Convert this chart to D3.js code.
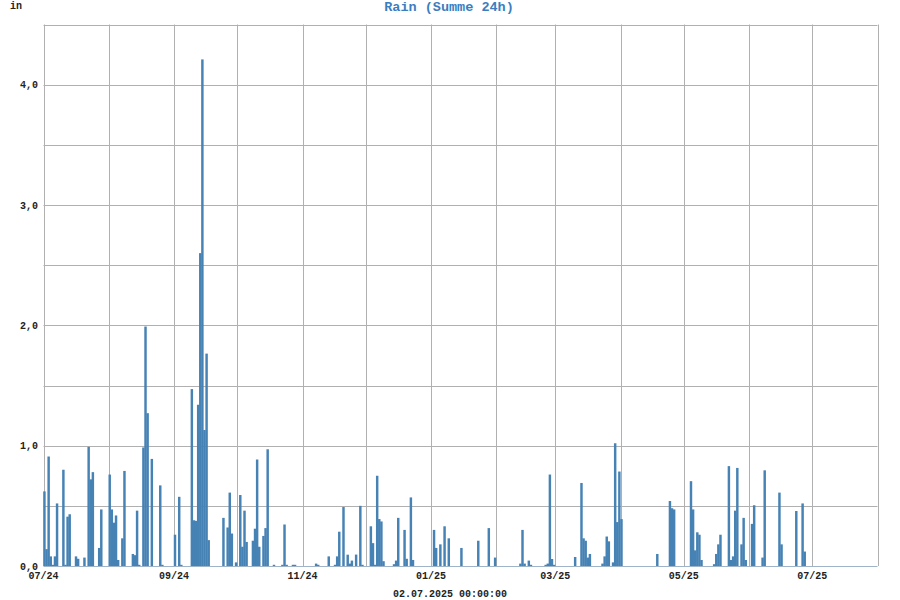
<!DOCTYPE html>
<html>
<head>
<meta charset="utf-8">
<script src="https://cdn.jsdelivr.net/npm/d3@7/dist/d3.min.js"></script>
<style>
  html, body { margin: 0; padding: 0; background: #fff; }
  svg { display: block; }
  text { font-family: "Liberation Mono", "DejaVu Sans Mono", monospace; font-weight: bold; }
</style>
</head>
<body>
<svg id="chart" width="900" height="600"></svg>
<script>
// ---- data (daily rain sums, inches) ----
const rainDays = [
  "2024-07-01","2024-07-02","2024-07-03","2024-07-04","2024-07-05","2024-07-06","2024-07-07",
  "2024-07-10","2024-07-11","2024-07-12","2024-07-13","2024-07-16","2024-07-17","2024-07-20",
  "2024-07-22","2024-07-23","2024-07-24","2024-07-27","2024-07-28",
  "2024-08-01","2024-08-02","2024-08-03","2024-08-04","2024-08-05","2024-08-07","2024-08-08",
  "2024-08-12","2024-08-13","2024-08-14","2024-08-15","2024-08-17","2024-08-18","2024-08-19",
  "2024-08-21","2024-08-25","2024-08-26",
  "2024-09-01","2024-09-03","2024-09-04","2024-09-09","2024-09-10","2024-09-11","2024-09-12",
  "2024-09-13","2024-09-14","2024-09-15","2024-09-16","2024-09-17","2024-09-24","2024-09-26",
  "2024-09-27","2024-09-28","2024-09-30",
  "2024-10-02","2024-10-03","2024-10-04","2024-10-05","2024-10-08","2024-10-09","2024-10-10",
  "2024-10-11","2024-10-13","2024-10-14","2024-10-15","2024-10-18","2024-10-22","2024-10-23",
  "2024-10-24","2024-10-27","2024-10-28",
  "2024-11-07","2024-11-08","2024-11-13","2024-11-16","2024-11-17","2024-11-18","2024-11-20",
  "2024-11-22","2024-11-23","2024-11-24","2024-11-26","2024-11-28","2024-11-29",
  "2024-12-03","2024-12-04","2024-12-05","2024-12-06","2024-12-07","2024-12-08","2024-12-09",
  "2024-12-14","2024-12-15","2024-12-16","2024-12-19","2024-12-20","2024-12-22","2024-12-23",
  "2025-01-02","2025-01-03","2025-01-05","2025-01-07","2025-01-09","2025-01-15","2025-01-23",
  "2025-01-28","2025-01-31",
  "2025-02-12","2025-02-13","2025-02-14","2025-02-16","2025-02-17","2025-02-24","2025-02-25",
  "2025-02-26","2025-02-27","2025-02-28",
  "2025-03-10","2025-03-13","2025-03-14","2025-03-15","2025-03-16","2025-03-17","2025-03-23",
  "2025-03-24","2025-03-25","2025-03-26","2025-03-28","2025-03-29","2025-03-30","2025-03-31",
  "2025-04-01","2025-04-18","2025-04-24","2025-04-25","2025-04-26",
  "2025-05-04","2025-05-05","2025-05-06","2025-05-07","2025-05-08","2025-05-09","2025-05-15",
  "2025-05-16","2025-05-17","2025-05-18","2025-05-22","2025-05-23","2025-05-24","2025-05-25",
  "2025-05-26","2025-05-28","2025-05-29","2025-05-30",
  "2025-06-02","2025-06-03","2025-06-07","2025-06-08","2025-06-15","2025-06-16","2025-06-23",
  "2025-06-26","2025-06-27"
];
const rainInches = [
  0.62,0.14,0.91,0.08,0.01,0.08,0.52,
  0.80,0.01,0.41,0.43,0.08,0.06,0.07,
  0.99,0.72,0.78,0.15,0.47,
  0.76,0.47,0.36,0.42,0.05,0.23,0.79,
  0.10,0.09,0.46,0.01,0.985,1.99,1.27,
  0.89,0.67,0.01,
  0.26,0.575,0.01,1.47,0.38,0.375,1.34,
  2.60,4.21,1.13,1.765,0.215,0.40,0.32,
  0.61,0.27,0.03,
  0.59,0.16,0.46,0.20,0.21,0.31,0.885,
  0.16,0.25,0.315,0.97,0.01,0.01,0.345,
  0.01,0.01,0.01,
  0.02,0.01,0.08,0.01,0.08,0.285,0.49,
  0.094,0.02,0.045,0.095,0.50,0.01,
  0.33,0.19,0.01,0.75,0.39,0.37,0.04,
  0.015,0.045,0.40,0.30,0.06,0.57,0.05,
  0.30,0.15,0.18,0.33,0.23,0.15,0.21,
  0.315,0.07,
  0.02,0.30,0.02,0.045,0.01,0.01,0.02,
  0.76,0.058,0.01,
  0.075,0.69,0.23,0.21,0.07,0.10,0.02,
  0.08,0.245,0.205,0.03,1.02,0.365,0.785,
  0.39,0.10,0.54,0.48,0.47,
  0.705,0.47,0.13,0.28,0.26,0.05,0.015,
  0.10,0.18,0.26,0.83,0.05,0.08,0.46,
  0.815,0.18,0.40,0.05,
  0.35,0.505,0.07,0.795,0.61,0.18,0.457,
  0.52,0.12
];
const xDomain = ["2024-07-01", "2025-08-01"];
const yDomain = [0, 4.5];
const yLabelTicks = [0, 1, 2, 3, 4];
const titleText = "Rain (Summe 24h)";
const unitText = "in";
const footerText = "02.07.2025 00:00:00";

// ---- chart ----
const parse = d3.utcParse("%Y-%m-%d");
const data = rainDays.map((d, i) => ({ date: parse(d), value: rainInches[i] }));

const m = { left: 43.5, right: 877.5, top: 24.5, bottom: 566 };
const svg = d3.select("#chart");

const x = d3.scaleUtc().domain(xDomain.map(parse)).range([m.left, m.right]);
const y = d3.scaleLinear().domain(yDomain).range([m.bottom, m.top]);

const gridColor = "#b0b0b0";
const barColor = "#4682b4";

// grid horizontal (every 0.5)
const yGrid = d3.range(0.5, yDomain[1] + 0.001, 0.5);
svg.append("g").selectAll("line").data(yGrid).join("line")
  .attr("x1", m.left).attr("x2", m.right)
  .attr("y1", d => Math.round(y(d)) + 0.5).attr("y2", d => Math.round(y(d)) + 0.5)
  .attr("stroke", gridColor).attr("stroke-width", 1);

// grid vertical (every month)
const months = d3.utcMonth.range(x.domain()[0], d3.utcDay.offset(x.domain()[1], 1));
svg.append("g").selectAll("line").data(months).join("line")
  .attr("x1", d => Math.round(x(d)) + 0.5).attr("x2", d => Math.round(x(d)) + 0.5)
  .attr("y1", m.top).attr("y2", m.bottom)
  .attr("stroke", gridColor).attr("stroke-width", 1);

// bars
const dayW = x(d3.utcDay.offset(x.domain()[0], 1)) - x(x.domain()[0]);
svg.append("g").selectAll("rect").data(data).join("rect")
  .attr("x", d => x(d.date) - 0.3)
  .attr("width", dayW + 0.35)
  .attr("y", d => y(d.value))
  .attr("height", d => y(0) - y(d.value))
  .attr("fill", barColor);

// baseline
svg.append("line")
  .attr("x1", m.left).attr("x2", m.right)
  .attr("y1", y(0) + 0.5).attr("y2", y(0) + 0.5)
  .attr("stroke", "#9fb4c8").attr("stroke-width", 1.2);

// y labels
const fmtY = v => d3.format(".1f")(v).replace(".", ",");
svg.append("g").selectAll("text").data(yLabelTicks).join("text")
  .attr("x", 38).attr("y", d => y(d) + 3.5)
  .attr("text-anchor", "end")
  .attr("font-size", 10).attr("fill", "#222")
  .text(fmtY);

// x labels (every 2 months)
const fmtX = d3.utcFormat("%m/%y");
const xLabels = months.filter((d, i) => i % 2 === 0 && d <= parse("2025-07-01"));
svg.append("g").selectAll("text").data(xLabels).join("text")
  .attr("x", d => x(d)).attr("y", 579)
  .attr("text-anchor", "middle")
  .attr("font-size", 10).attr("fill", "#222")
  .text(fmtX);

// title, unit, footer
svg.append("text").attr("x", 449).attr("y", 11)
  .attr("text-anchor", "middle").attr("font-size", 13.5)
  .attr("fill", "#3a7ebf").text(titleText);
svg.append("text").attr("x", 10).attr("y", 9)
  .attr("font-size", 10).attr("fill", "#222").text(unitText);
svg.append("text").attr("x", 450).attr("y", 597)
  .attr("text-anchor", "middle").attr("font-size", 10)
  .attr("fill", "#222").text(footerText);
</script>
</body>
</html>
